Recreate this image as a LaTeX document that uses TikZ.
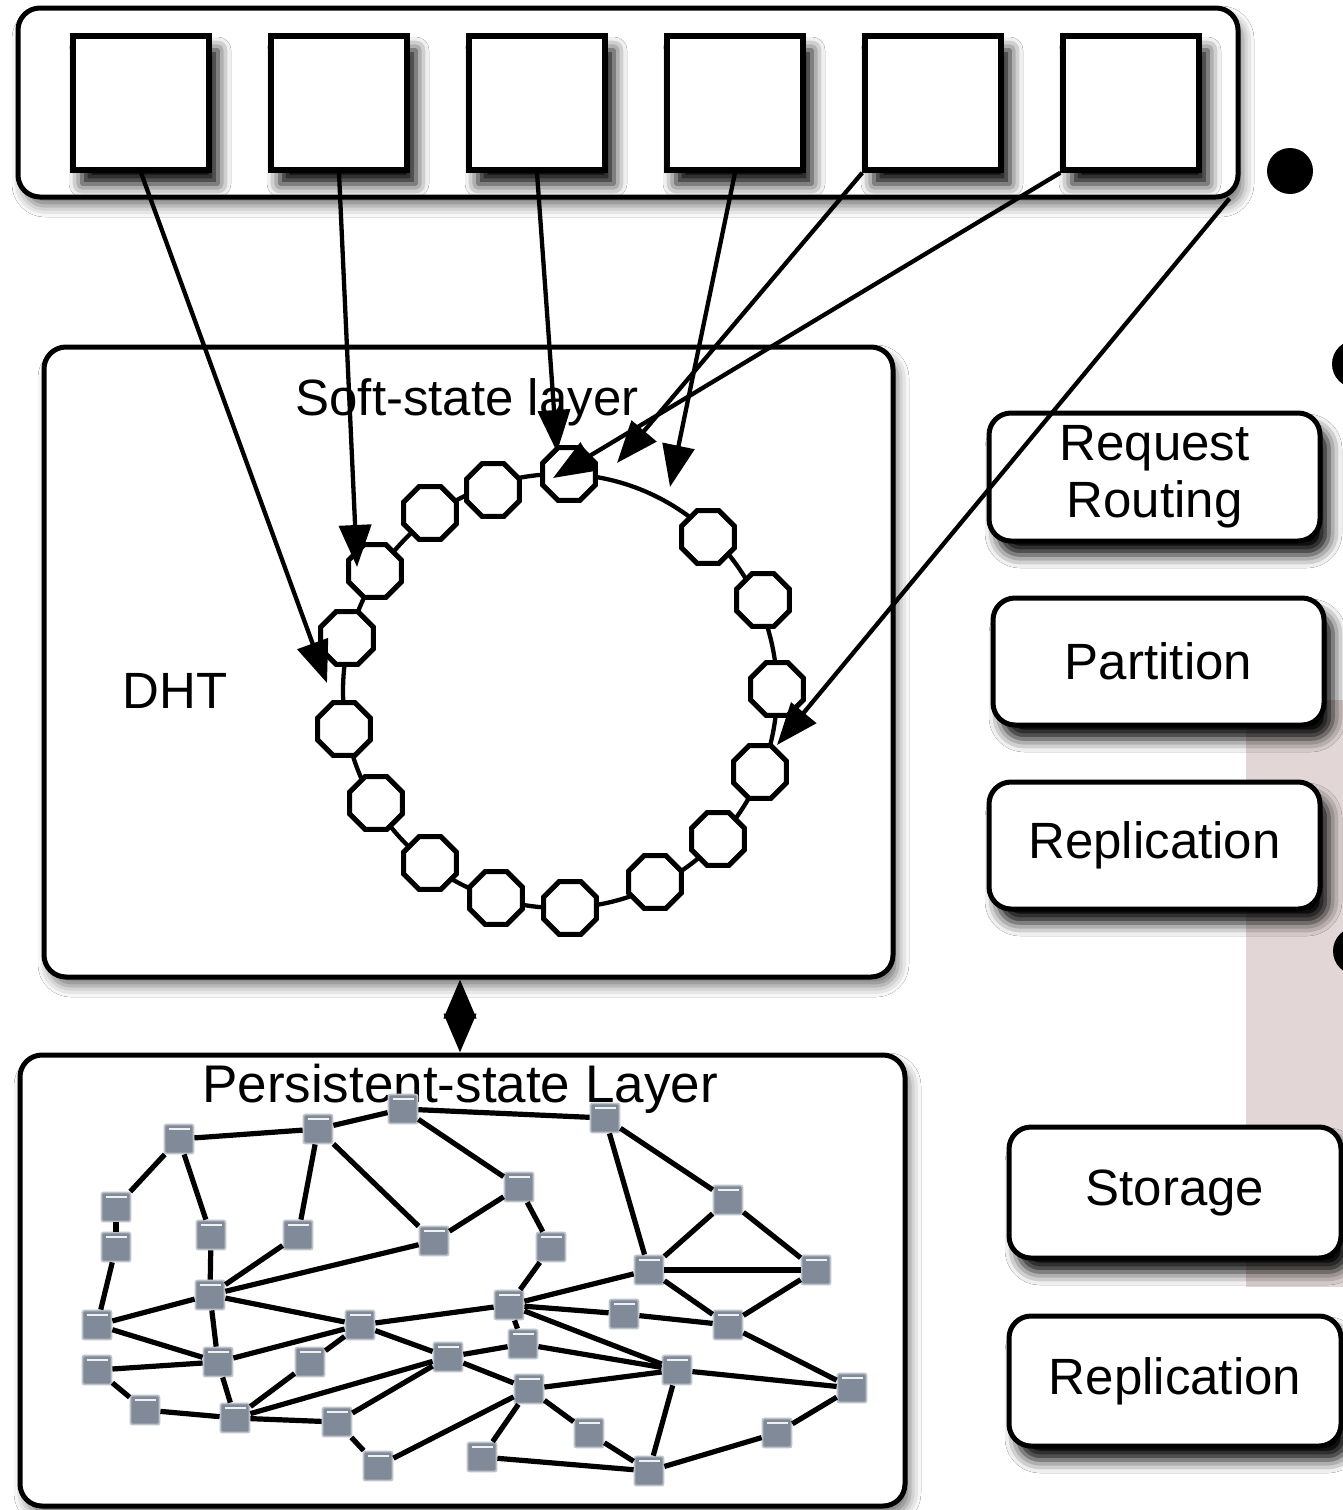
\documentclass[tikz,border=0pt]{standalone}
\usepackage{fontspec}
\setmainfont{Liberation Sans}
\usetikzlibrary{shapes.geometric,arrows.meta,shadows.blur,calc}

\definecolor{pinkbar}{RGB}{226,214,214}
\definecolor{srvfill}{RGB}{128,138,152}
\definecolor{srvedge}{RGB}{188,194,202}

\begin{document}
\begin{tikzpicture}[x=1pt,y=-1pt,
  bigfont/.style={font=\fontsize{51}{57}\selectfont},
  frame/.style={draw, line width=5pt, rounded corners=22pt, fill=white, inner sep=0pt},
  softshadow/.style={blur shadow={shadow xshift=5pt, shadow yshift=-9pt, shadow blur radius=11pt, shadow opacity=55}},
  boxshadow/.style={blur shadow={shadow xshift=9pt, shadow yshift=-14pt, shadow blur radius=13pt, shadow opacity=100}},
  slot/.style={draw, line width=5.5pt, fill=white, minimum width=136pt, minimum height=134pt, inner sep=0pt, boxshadow},
  module/.style={frame, bigfont, align=center, minimum height=128pt, boxshadow},
  peer/.style={regular polygon, regular polygon sides=8, draw, line width=5pt, fill=white, minimum size=57pt, inner sep=0pt},
  link/.style={line width=4.3pt, -{Triangle[length=42pt,width=32pt]}},
  srv/.style={rectangle, minimum size=29pt, inner sep=0pt, fill=srvfill, draw=srvedge, line width=1.8pt, rounded corners=2pt,
    path picture={\draw[white!75!srvedge, line width=1.8pt]
      ([xshift=4pt,yshift=-4.5pt]path picture bounding box.north west) --
      ([xshift=-4pt,yshift=-4.5pt]path picture bounding box.north east);}},
  wire/.style={line width=5.2pt}]

\useasboundingbox (0,0) rectangle (1343,1510);
\clip (0,0) rectangle (1343,1510);
\fill[white] (0,0) rectangle (1343,1510);

% tinted band behind the module column
\fill[pinkbar] (1246,700) rectangle (1343,1287);

% client tier
\node[frame, softshadow, minimum width=1220pt, minimum height=189pt] (top) at (628,102.5) {};
\foreach \k in {1,...,6}
  \node[slot] (sq\k) at ({141+198*(\k-1)},103) {};

% bullets
\node[circle, fill, minimum size=46pt, inner sep=0pt] (dot1) at (1290,171) {};
\node[circle, fill, minimum size=48pt, inner sep=0pt] (dot2) at (1356,364) {};
\node[circle, fill, minimum size=48pt, inner sep=0pt] (dot3) at (1357,951) {};

% soft-state layer
\node[frame, softshadow, minimum width=849pt, minimum height=630pt] (dht) at (468.5,662) {};
\node[bigfont, anchor=base] (softlbl) at (467,415) {Soft-state layer};
\node[bigfont, anchor=base] (dhtlbl) at (175,708) {DHT};

\coordinate (rc) at (560,691);
\draw[line width=4.3pt] (rc) circle (217pt);
\foreach \n/\x/\y in {1/569/474, 2/493/490, 3/430/513, 4/375/571, 5/347/638, 6/344/729,
  7/376/803, 8/430/863, 9/496/898, 10/570/908, 11/655/882, 12/718/839, 13/760/772,
  14/777/689, 15/763/600, 16/708/537}
  \node[peer] (o\n) at (\x,\y) {};

% persistent-state layer
\node[frame, softshadow, minimum width=885pt, minimum height=451pt] (pers) at (462.5,1280.5) {};
\node[font=\fontsize{53}{57}\selectfont, anchor=base] (perslbl) at (460,1102) {Persistent-state Layer};

\foreach \n/\x/\y in {a/179/1139, b/318/1129, c/403/1109, d/116/1207, e/116/1247, f/211/1235,
  g/298/1235, h/434/1241, i/210/1295, j/97/1325, k/360/1325, l/97/1370, m/218/1362,
  n/310/1362, o/448/1357, p/145/1410, q/235/1418, r/337/1422, s/378/1466, t/482/1457,
  A/605/1118, B/519/1187, C/728/1200, D/551/1247, E/649/1270, F/816/1270, G/509/1305,
  H/624/1314, I/728/1325, J/523/1344, K/677/1370, L/852/1388, M/529/1389, N/589/1433,
  O/777/1433, Q/649/1471}
  \node[srv] (s\n) at (\x,\y) {};

\foreach \u/\v in {a/d, a/b, b/c, a/f, b/g, b/h, c/A, c/B, d/e, e/j, f/i, g/i, h/i, h/B,
  i/j, i/k, i/m, j/m, k/G, k/m, k/n, k/o, l/m, l/p, p/q, m/q, q/n, q/o, q/r, r/o, r/s,
  s/M, t/M, t/Q, o/J, o/M, B/D, A/E, A/C, C/E, C/F, E/F, D/G, G/E, E/I, F/I, G/H, H/I,
  G/J, G/K, J/K, I/L, K/L, M/K, K/Q, M/N, N/Q, Q/O, O/L}
  \draw[wire] (s\u) -- (s\v);

% link between the two layers
\coordinate (mid) at (460,0);
\draw[line width=4.3pt, {Triangle[length=39pt,width=32pt]}-{Triangle[length=39pt,width=32pt]}]
  (dht.south -| mid) -- (pers.north -| mid);

% modules
\node[module, minimum width=331pt] (route) at (1154.5,477) {Request\\Routing};
\node[module, minimum width=331pt, minimum height=127pt] (part) at (1158.5,661.5) {Partition};
\node[module, minimum width=331pt, minimum height=127pt] (repl) at (1154.5,845.5) {Replication};
\node[module, minimum width=332pt, minimum height=131pt] (store) at (1175,1192.5) {Storage};
\node[module, minimum width=332pt, minimum height=130pt] (repl2) at (1175,1381) {Replication};

% request arrows into the ring
\coordinate (e1) at (327,683);
\coordinate (e2) at (357,567);
\coordinate (e3) at (557,452);
\coordinate (e4) at (670,487);
\coordinate (e5) at (617,463);
\coordinate (e6) at (553,478);
\coordinate (e7) at (777,745);
\draw[link] (sq1.south) -- (e1);
\draw[link] (sq2.south) -- (e2);
\draw[link] (sq3.south) -- (e3);
\draw[link] (sq4.south) -- (e4);
\draw[link] (sq5.south west) -- (e5);
\draw[link] (sq6.south west) -- (e6);
\draw[link] ([xshift=-11pt,yshift=1pt]top.south east) -- (e7);

\end{tikzpicture}
\end{document}
